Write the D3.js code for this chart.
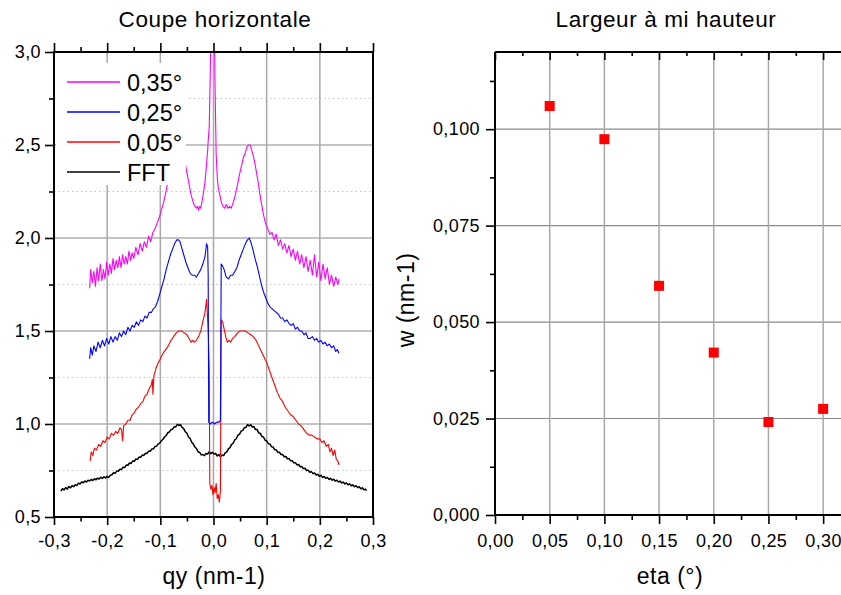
<!DOCTYPE html>
<html><head><meta charset="utf-8">
<script src="https://cdn.jsdelivr.net/npm/d3@7"></script>
<style>
body{margin:0;background:#fff;}
svg text{font-family:"Liberation Sans",Arial,sans-serif;fill:#000;}
</style></head><body>
<svg id="c" width="841" height="595"></svg>
<script>
// ---------- data ----------
const legendLabels = ["0,35°", "0,25°", "0,05°", "FFT"];
const seriesColors = ["#ff00ff", "#0000ff", "#ff0000", "#000000"];

const pink = [[-0.233,1.73],[-0.231,1.83],[-0.228,1.76],[-0.225,1.82],[-0.222,1.74],[-0.219,1.84],[-0.216,1.77],[-0.213,1.86],[-0.210,1.77],[-0.207,1.83],[-0.204,1.78],[-0.201,1.87],[-0.198,1.80],[-0.195,1.86],[-0.192,1.81],[-0.189,1.89],[-0.186,1.83],[-0.183,1.88],[-0.180,1.84],[-0.177,1.90],[-0.174,1.84],[-0.171,1.91],[-0.168,1.86],[-0.165,1.90],[-0.162,1.86],[-0.159,1.93],[-0.156,1.88],[-0.153,1.92],[-0.150,1.89],[-0.146,1.95],[-0.142,1.91],[-0.138,1.97],[-0.134,1.93],[-0.130,1.98],[-0.126,1.95],[-0.122,2.01],[-0.118,1.98],[-0.114,2.03],[-0.110,2.05],[-0.106,2.08],[-0.102,2.11],[-0.098,2.15],[-0.094,2.19],[-0.090,2.24],[-0.086,2.30],[-0.081,2.36],[-0.075,2.42],[-0.068,2.47],[-0.062,2.49],[-0.056,2.45],[-0.050,2.35],[-0.046,2.29],[-0.042,2.23],[-0.038,2.19],[-0.035,2.17],[-0.032,2.16],[-0.030,2.17],[-0.028,2.15],[-0.026,2.17],[-0.024,2.16],[-0.022,2.19],[-0.019,2.24],[-0.016,2.30],[-0.013,2.40],[-0.011,2.47],[-0.010,2.52],[-0.008,2.60],[-0.006,2.90],[-0.004,3.30],[0.001,3.30],[0.003,2.80],[0.005,2.45],[0.007,2.33],[0.009,2.27],[0.012,2.23],[0.015,2.19],[0.018,2.17],[0.021,2.16],[0.024,2.18],[0.027,2.16],[0.030,2.17],[0.033,2.16],[0.036,2.18],[0.040,2.22],[0.044,2.27],[0.048,2.33],[0.052,2.38],[0.056,2.43],[0.060,2.46],[0.063,2.49],[0.066,2.50],[0.069,2.50],[0.072,2.47],[0.075,2.44],[0.078,2.40],[0.081,2.35],[0.084,2.30],[0.087,2.24],[0.090,2.19],[0.093,2.14],[0.096,2.10],[0.099,2.07],[0.102,2.05],[0.106,2.02],[0.110,2.03],[0.114,1.99],[0.118,2.02],[0.122,1.96],[0.126,1.99],[0.130,1.94],[0.134,1.97],[0.138,1.92],[0.142,1.96],[0.146,1.90],[0.150,1.94],[0.154,1.88],[0.158,1.93],[0.162,1.86],[0.166,1.91],[0.170,1.84],[0.174,1.90],[0.178,1.82],[0.182,1.88],[0.186,1.80],[0.190,1.91],[0.194,1.79],[0.198,1.87],[0.202,1.77],[0.206,1.86],[0.210,1.78],[0.214,1.84],[0.218,1.75],[0.222,1.80],[0.226,1.74],[0.230,1.79],[0.234,1.75],[0.236,1.78]];

const blue = [[-0.233,1.35],[-0.231,1.41],[-0.228,1.37],[-0.225,1.42],[-0.221,1.39],[-0.217,1.44],[-0.213,1.41],[-0.209,1.45],[-0.205,1.42],[-0.201,1.46],[-0.197,1.43],[-0.193,1.47],[-0.189,1.44],[-0.185,1.47],[-0.181,1.45],[-0.177,1.49],[-0.173,1.47],[-0.169,1.50],[-0.165,1.48],[-0.161,1.52],[-0.157,1.50],[-0.153,1.53],[-0.149,1.52],[-0.145,1.55],[-0.141,1.53],[-0.137,1.56],[-0.133,1.55],[-0.129,1.58],[-0.125,1.57],[-0.121,1.60],[-0.117,1.60],[-0.113,1.62],[-0.109,1.63],[-0.105,1.66],[-0.101,1.70],[-0.097,1.74],[-0.093,1.78],[-0.089,1.83],[-0.085,1.87],[-0.081,1.91],[-0.077,1.94],[-0.073,1.97],[-0.069,1.99],[-0.066,1.99],[-0.063,1.98],[-0.060,1.95],[-0.056,1.91],[-0.052,1.87],[-0.048,1.84],[-0.044,1.81],[-0.040,1.80],[-0.036,1.80],[-0.032,1.79],[-0.028,1.81],[-0.024,1.83],[-0.020,1.86],[-0.016,1.90],[-0.013,1.97],[-0.011,1.95],[-0.010,1.80],[-0.009,1.01],[-0.006,1.00],[-0.002,1.01],[0.002,1.00],[0.006,1.01],[0.010,1.01],[0.013,1.02],[0.0145,1.86],[0.017,1.85],[0.020,1.83],[0.024,1.79],[0.028,1.78],[0.032,1.80],[0.036,1.80],[0.040,1.82],[0.044,1.84],[0.048,1.88],[0.052,1.91],[0.056,1.94],[0.060,1.97],[0.064,1.99],[0.067,2.00],[0.070,1.98],[0.074,1.94],[0.078,1.89],[0.082,1.85],[0.086,1.80],[0.090,1.75],[0.094,1.71],[0.098,1.68],[0.102,1.65],[0.106,1.63],[0.110,1.62],[0.114,1.61],[0.118,1.60],[0.122,1.59],[0.126,1.57],[0.130,1.57],[0.134,1.55],[0.138,1.56],[0.142,1.54],[0.146,1.53],[0.150,1.54],[0.154,1.51],[0.158,1.52],[0.162,1.50],[0.166,1.50],[0.170,1.48],[0.174,1.49],[0.178,1.46],[0.182,1.46],[0.186,1.47],[0.190,1.45],[0.194,1.46],[0.198,1.44],[0.202,1.45],[0.206,1.43],[0.210,1.44],[0.214,1.42],[0.218,1.43],[0.222,1.41],[0.226,1.42],[0.230,1.39],[0.233,1.40],[0.236,1.38]];

const red = [[-0.232,0.80],[-0.230,0.85],[-0.227,0.83],[-0.224,0.87],[-0.220,0.86],[-0.216,0.89],[-0.212,0.88],[-0.208,0.91],[-0.204,0.90],[-0.200,0.93],[-0.196,0.92],[-0.192,0.95],[-0.188,0.94],[-0.184,0.96],[-0.180,0.95],[-0.176,0.98],[-0.173,0.97],[-0.171,0.91],[-0.169,0.99],[-0.165,1.00],[-0.161,1.02],[-0.157,1.02],[-0.153,1.05],[-0.149,1.06],[-0.145,1.08],[-0.141,1.09],[-0.137,1.11],[-0.133,1.12],[-0.129,1.15],[-0.125,1.16],[-0.121,1.19],[-0.117,1.21],[-0.115,1.24],[-0.114,1.16],[-0.112,1.26],[-0.108,1.30],[-0.104,1.33],[-0.100,1.35],[-0.095,1.38],[-0.090,1.40],[-0.085,1.42],[-0.080,1.45],[-0.075,1.47],[-0.070,1.49],[-0.065,1.50],[-0.060,1.50],[-0.055,1.49],[-0.050,1.48],[-0.046,1.46],[-0.042,1.44],[-0.039,1.45],[-0.036,1.44],[-0.032,1.45],[-0.028,1.47],[-0.024,1.50],[-0.020,1.55],[-0.016,1.60],[-0.013,1.67],[-0.011,1.56],[-0.010,1.50],[-0.008,1.30],[-0.007,0.68],[-0.005,0.65],[-0.003,0.67],[-0.001,0.62],[0.001,0.66],[0.003,0.63],[0.005,0.68],[0.007,0.60],[0.009,0.62],[0.011,0.58],[0.013,0.64],[0.0145,1.56],[0.017,1.55],[0.020,1.51],[0.023,1.47],[0.026,1.44],[0.029,1.45],[0.032,1.44],[0.036,1.46],[0.040,1.47],[0.045,1.49],[0.050,1.50],[0.055,1.50],[0.060,1.50],[0.065,1.49],[0.070,1.48],[0.075,1.47],[0.080,1.45],[0.085,1.42],[0.090,1.39],[0.095,1.36],[0.100,1.33],[0.105,1.29],[0.110,1.25],[0.115,1.21],[0.120,1.17],[0.125,1.14],[0.130,1.12],[0.135,1.09],[0.140,1.07],[0.145,1.05],[0.150,1.04],[0.155,1.02],[0.160,1.00],[0.165,0.99],[0.170,0.97],[0.175,0.95],[0.180,0.94],[0.185,0.94],[0.190,0.93],[0.195,0.92],[0.200,0.92],[0.204,0.90],[0.208,0.91],[0.212,0.88],[0.216,0.89],[0.219,0.85],[0.222,0.87],[0.225,0.83],[0.228,0.86],[0.231,0.81],[0.234,0.80],[0.236,0.78]];

const fft = [[-0.287,0.640],[-0.284,0.652],[-0.281,0.646],[-0.278,0.658],[-0.275,0.650],[-0.272,0.664],[-0.269,0.657],[-0.266,0.668],[-0.263,0.663],[-0.260,0.674],[-0.257,0.669],[-0.254,0.682],[-0.251,0.677],[-0.248,0.689],[-0.245,0.684],[-0.242,0.694],[-0.239,0.688],[-0.236,0.698],[-0.233,0.693],[-0.230,0.702],[-0.227,0.696],[-0.224,0.706],[-0.221,0.700],[-0.218,0.709],[-0.215,0.704],[-0.212,0.714],[-0.209,0.707],[-0.206,0.716],[-0.203,0.710],[-0.200,0.719],[-0.197,0.713],[-0.194,0.724],[-0.191,0.727],[-0.188,0.738],[-0.185,0.735],[-0.182,0.748],[-0.179,0.746],[-0.176,0.757],[-0.173,0.756],[-0.170,0.768],[-0.167,0.766],[-0.164,0.779],[-0.161,0.778],[-0.158,0.790],[-0.155,0.788],[-0.152,0.801],[-0.149,0.800],[-0.146,0.812],[-0.143,0.810],[-0.140,0.822],[-0.137,0.821],[-0.134,0.833],[-0.131,0.831],[-0.128,0.843],[-0.125,0.842],[-0.122,0.854],[-0.119,0.853],[-0.116,0.866],[-0.113,0.866],[-0.110,0.879],[-0.107,0.881],[-0.104,0.893],[-0.101,0.897],[-0.098,0.910],[-0.095,0.918],[-0.092,0.930],[-0.089,0.938],[-0.086,0.953],[-0.083,0.957],[-0.080,0.970],[-0.077,0.972],[-0.074,0.985],[-0.071,0.984],[-0.068,0.998],[-0.065,0.992],[-0.062,0.996],[-0.059,0.982],[-0.056,0.975],[-0.053,0.958],[-0.050,0.950],[-0.047,0.930],[-0.044,0.922],[-0.041,0.902],[-0.038,0.893],[-0.035,0.876],[-0.032,0.868],[-0.029,0.851],[-0.026,0.847],[-0.023,0.834],[-0.020,0.836],[-0.017,0.830],[-0.014,0.842],[-0.011,0.838],[-0.008,0.852],[-0.005,0.840],[-0.002,0.848],[0.001,0.838],[0.004,0.842],[0.007,0.828],[0.010,0.836],[0.013,0.824],[0.016,0.833],[0.019,0.830],[0.022,0.845],[0.025,0.850],[0.028,0.866],[0.031,0.873],[0.034,0.890],[0.037,0.897],[0.040,0.914],[0.043,0.922],[0.046,0.940],[0.049,0.946],[0.052,0.962],[0.055,0.966],[0.058,0.980],[0.061,0.982],[0.064,0.997],[0.067,0.990],[0.070,0.996],[0.073,0.984],[0.076,0.986],[0.079,0.970],[0.082,0.970],[0.085,0.952],[0.088,0.950],[0.091,0.933],[0.094,0.930],[0.097,0.913],[0.100,0.910],[0.103,0.894],[0.106,0.893],[0.109,0.878],[0.112,0.876],[0.115,0.862],[0.118,0.861],[0.121,0.848],[0.124,0.848],[0.127,0.836],[0.130,0.836],[0.133,0.824],[0.136,0.825],[0.139,0.813],[0.142,0.814],[0.145,0.802],[0.148,0.803],[0.151,0.791],[0.154,0.792],[0.157,0.780],[0.160,0.782],[0.163,0.770],[0.166,0.772],[0.169,0.760],[0.172,0.762],[0.175,0.750],[0.178,0.752],[0.181,0.741],[0.184,0.744],[0.187,0.733],[0.190,0.737],[0.193,0.726],[0.196,0.730],[0.199,0.719],[0.202,0.724],[0.205,0.713],[0.208,0.718],[0.211,0.708],[0.214,0.713],[0.217,0.703],[0.220,0.708],[0.223,0.698],[0.226,0.703],[0.229,0.693],[0.232,0.698],[0.235,0.688],[0.238,0.693],[0.241,0.683],[0.244,0.688],[0.247,0.678],[0.250,0.683],[0.253,0.673],[0.256,0.678],[0.259,0.668],[0.262,0.673],[0.265,0.663],[0.268,0.668],[0.271,0.658],[0.274,0.663],[0.277,0.652],[0.280,0.657],[0.283,0.646],[0.286,0.650],[0.288,0.642]];

const etaValues = [0.05, 0.10, 0.15, 0.20, 0.25, 0.30];
const widthValues = [0.1060, 0.0974, 0.0594, 0.0421, 0.0241, 0.0275];

const leftXTicks = [-0.3, -0.2, -0.1, 0.0, 0.1, 0.2, 0.3];
const leftYTicks = [0.5, 1.0, 1.5, 2.0, 2.5, 3.0];
const rightXTicks = [0.00, 0.05, 0.10, 0.15, 0.20, 0.25, 0.30];
const rightYTicks = [0.000, 0.025, 0.050, 0.075, 0.100];

// ---------- layout ----------
const svg = d3.select("#c");
const L = {x0: 54, x1: 373, y0: 52, y1: 517};
const R = {x0: 495, x1: 845, y0: 52, y1: 515};
const FONT = '"Liberation Sans", Arial, sans-serif';
const TICK_FS = 18, TICK_LS = 0.4;
const comma = (d, n) => d.toFixed(n).replace(".", ",");

const xL = d3.scaleLinear().domain([-0.3, 0.3]).range([L.x0, L.x1]);
const yL = d3.scaleLinear().domain([0.5, 3.0]).range([L.y1, L.y0]);
const xR = d3.scaleLinear().domain([0, 0.32]).range([R.x0, R.x1]);
const yR = d3.scaleLinear().domain([0, 0.12]).range([R.y1, R.y0]);

function styleAxis(g, fs, ls) {
  g.attr("font-family", FONT).attr("font-size", fs);
  g.selectAll("path.domain").remove();
  g.selectAll(".tick line").attr("stroke", "#000").attr("stroke-width", 1.6);
  g.selectAll(".tick text").attr("fill", "#000").attr("letter-spacing", ls);
}
function minors(majors) {
  const out = [];
  for (let i = 0; i < majors.length - 1; i++) out.push((majors[i] + majors[i + 1]) / 2);
  return out;
}

// ---------- left plot ----------
const gl = svg.append("g");
const lMinorY = minors(leftYTicks);
gl.selectAll("line.dgy").data(lMinorY).join("line")
  .attr("x1", L.x0).attr("x2", L.x1).attr("y1", d => yL(d)).attr("y2", d => yL(d))
  .attr("stroke", "#c4c4c4").attr("stroke-width", 1.2).attr("stroke-dasharray", "1.5,3");
gl.selectAll("line.gy").data(leftYTicks.slice(1, -1)).join("line")
  .attr("x1", L.x0).attr("x2", L.x1).attr("y1", d => yL(d)).attr("y2", d => yL(d))
  .attr("stroke", "#8a8a8a").attr("stroke-width", 1.1);
gl.selectAll("line.gx").data(leftXTicks.slice(1, -1)).join("line")
  .attr("x1", d => xL(d)).attr("x2", d => xL(d)).attr("y1", L.y0).attr("y2", L.y1)
  .attr("stroke", "#a8a8a8").attr("stroke-width", 1.5);

svg.append("clipPath").attr("id", "clipL").append("rect")
  .attr("x", L.x0).attr("y", L.y0).attr("width", L.x1 - L.x0).attr("height", L.y1 - L.y0);
const line = d3.line().x(d => xL(d[0])).y(d => yL(d[1]));
const seriesList = [pink, blue, red, fft];
const gc = gl.append("g").attr("clip-path", "url(#clipL)");
[fft, red, blue, pink].forEach(s => {
  const i = seriesList.indexOf(s);
  gc.append("path").datum(s).attr("d", line).attr("fill", "none")
    .attr("stroke", seriesColors[i]).attr("stroke-width", i === 3 ? 1.5 : 1.1)
    .attr("stroke-linejoin", "round");
});

// legend
gl.append("rect").attr("x", L.x0 + 2).attr("y", 63).attr("width", 130).attr("height", 122).attr("fill", "#fff");
legendLabels.forEach((lab, i) => {
  const yy = 82 + i * 30;
  gl.append("line").attr("x1", 67).attr("x2", 120).attr("y1", yy).attr("y2", yy)
    .attr("stroke", seriesColors[i]).attr("stroke-width", 1.3);
  gl.append("text").attr("x", 127).attr("y", yy + 9).attr("font-size", 23.5).text(lab);
});

// axes
const axLB = gl.append("g").attr("transform", `translate(0,${L.y1})`)
  .call(d3.axisBottom(xL).tickValues(leftXTicks).tickSize(8).tickPadding(9).tickFormat(d => comma(d, 1)));
styleAxis(axLB, TICK_FS, TICK_LS);
const axLBm = gl.append("g").attr("transform", `translate(0,${L.y1})`)
  .call(d3.axisBottom(xL).tickValues(minors(leftXTicks)).tickSize(4.5).tickFormat(""));
styleAxis(axLBm, TICK_FS, 0);
const axLT = gl.append("g").attr("transform", `translate(0,${L.y0})`)
  .call(d3.axisTop(xL).tickValues(leftXTicks).tickSize(9).tickFormat(""));
styleAxis(axLT, TICK_FS, 0);
const axLTm = gl.append("g").attr("transform", `translate(0,${L.y0})`)
  .call(d3.axisTop(xL).tickValues(minors(leftXTicks)).tickSize(5).tickFormat(""));
styleAxis(axLTm, TICK_FS, 0);
const axLL = gl.append("g").attr("transform", `translate(${L.x0},0)`)
  .call(d3.axisLeft(yL).tickValues(leftYTicks).tickSize(9).tickPadding(4).tickFormat(d => comma(d, 1)));
styleAxis(axLL, TICK_FS, TICK_LS);
const axLLm = gl.append("g").attr("transform", `translate(${L.x0},0)`)
  .call(d3.axisLeft(yL).tickValues(lMinorY).tickSize(5).tickFormat(""));
styleAxis(axLLm, TICK_FS, 0);
gl.append("rect").attr("x", L.x0).attr("y", L.y0).attr("width", L.x1 - L.x0).attr("height", L.y1 - L.y0)
  .attr("fill", "none").attr("stroke", "#000").attr("stroke-width", 2);

gl.append("text").attr("x", 215).attr("y", 27).attr("text-anchor", "middle")
  .attr("font-size", 22.5).attr("letter-spacing", 0.6).text("Coupe horizontale");
gl.append("text").attr("x", 214).attr("y", 584).attr("text-anchor", "middle")
  .attr("font-size", 23).attr("letter-spacing", 0.5).text("qy (nm-1)");

// ---------- right plot ----------
const gr = svg.append("g");
gr.selectAll("line.gy").data(rightYTicks.slice(1)).join("line")
  .attr("x1", R.x0).attr("x2", R.x1).attr("y1", d => yR(d)).attr("y2", d => yR(d))
  .attr("stroke", "#8a8a8a").attr("stroke-width", 1.1);
gr.selectAll("line.gx").data(rightXTicks.slice(1)).join("line")
  .attr("x1", d => xR(d)).attr("x2", d => xR(d)).attr("y1", R.y0).attr("y2", R.y1)
  .attr("stroke", "#a8a8a8").attr("stroke-width", 1.5);

const rXm = minors(rightXTicks.concat([0.35]));
const rYm = minors(rightYTicks.concat([0.125]));
const axRB = gr.append("g").attr("transform", `translate(0,${R.y1})`)
  .call(d3.axisBottom(xR).tickValues(rightXTicks).tickSize(9).tickPadding(10).tickFormat(d => comma(d, 2)));
styleAxis(axRB, TICK_FS, TICK_LS);
const axRBm = gr.append("g").attr("transform", `translate(0,${R.y1})`)
  .call(d3.axisBottom(xR).tickValues(rXm).tickSize(5).tickFormat(""));
styleAxis(axRBm, TICK_FS, 0);
const axRT = gr.append("g").attr("transform", `translate(0,${R.y0})`)
  .call(d3.axisTop(xR).tickValues(rightXTicks).tickSize(-8).tickFormat(""));
styleAxis(axRT, TICK_FS, 0);
const axRTm = gr.append("g").attr("transform", `translate(0,${R.y0})`)
  .call(d3.axisTop(xR).tickValues(rXm).tickSize(-4).tickFormat(""));
styleAxis(axRTm, TICK_FS, 0);
const axRL = gr.append("g").attr("transform", `translate(${R.x0},0)`)
  .call(d3.axisLeft(yR).tickValues(rightYTicks).tickSize(9).tickPadding(6).tickFormat(d => comma(d, 3)));
styleAxis(axRL, TICK_FS, TICK_LS);
const axRLm = gr.append("g").attr("transform", `translate(${R.x0},0)`)
  .call(d3.axisLeft(yR).tickValues(rYm).tickSize(5).tickFormat(""));
styleAxis(axRLm, TICK_FS, 0);
gr.append("line").attr("x1", R.x0).attr("x2", R.x1).attr("y1", R.y0).attr("y2", R.y0).attr("stroke", "#000").attr("stroke-width", 2);
gr.append("line").attr("x1", R.x0).attr("x2", R.x1).attr("y1", R.y1).attr("y2", R.y1).attr("stroke", "#000").attr("stroke-width", 2);
gr.append("line").attr("x1", R.x0).attr("x2", R.x0).attr("y1", R.y0).attr("y2", R.y1).attr("stroke", "#000").attr("stroke-width", 2);

gr.selectAll("rect.pt").data(etaValues).join("rect")
  .attr("x", d => xR(d) - 5).attr("y", (d, i) => yR(widthValues[i]) - 5)
  .attr("width", 10).attr("height", 10).attr("fill", "#ff0000");

gr.append("text").attr("x", 666).attr("y", 27).attr("text-anchor", "middle")
  .attr("font-size", 22.5).attr("letter-spacing", 0.6).text("Largeur à mi hauteur");
gr.append("text").attr("x", 670).attr("y", 584).attr("text-anchor", "middle")
  .attr("font-size", 23).attr("letter-spacing", 0.5).text("eta (°)");
gr.append("text").attr("transform", "translate(414,300) rotate(-90)").attr("text-anchor", "middle")
  .attr("font-size", 23).attr("letter-spacing", 0.5).text("w (nm-1)");
</script>
</body></html>
